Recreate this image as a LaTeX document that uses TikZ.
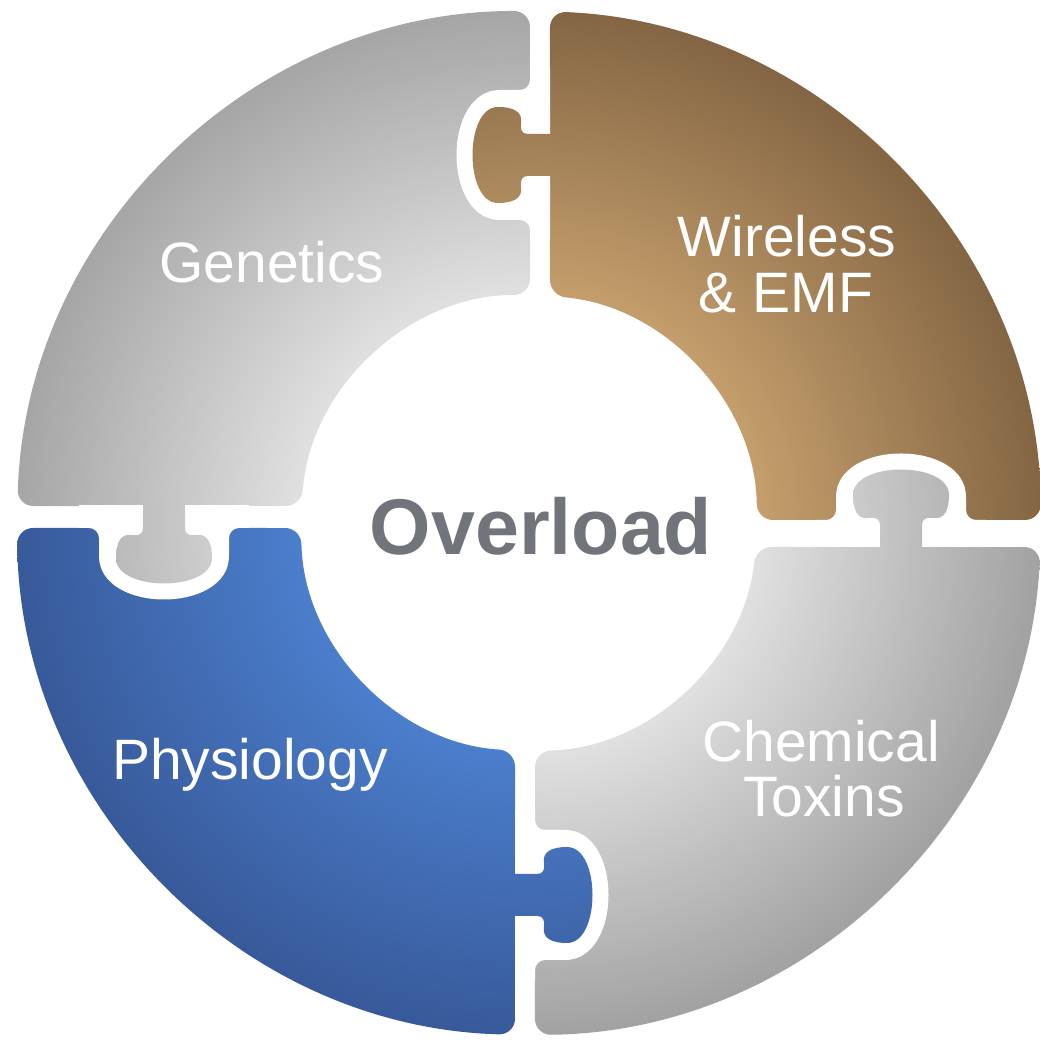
\documentclass[tikz,border=0pt]{standalone}
\usepackage{fontspec}
\setmainfont{Liberation Sans}

% piece colours: light tone near the hole, dark tone at the rim
\definecolor{genLight}{RGB}{224,224,224}
\definecolor{genDark}{RGB}{166,166,166}
\definecolor{wirLight}{RGB}{196,158,108}
\definecolor{wirDark}{RGB}{132,102,68}
\definecolor{phyLight}{RGB}{75,126,204}
\definecolor{phyDark}{RGB}{56,90,154}
\definecolor{cheLight}{RGB}{224,224,224}
\definecolor{cheDark}{RGB}{162,162,162}
\definecolor{overGray}{RGB}{114,116,124}

% radial fills centred on the ring (shaded square of side 1040 -> 20.8 units per bp)
\pgfdeclareradialshading{genShade}{\pgfpointorigin}{color(0bp)=(genLight); color(11bp)=(genLight); color(24.6bp)=(genDark); color(50bp)=(genDark)}
\pgfdeclareradialshading{wirShade}{\pgfpointorigin}{color(0bp)=(wirLight); color(11bp)=(wirLight); color(24.6bp)=(wirDark); color(50bp)=(wirDark)}
\pgfdeclareradialshading{phyShade}{\pgfpointorigin}{color(0bp)=(phyLight); color(11bp)=(phyLight); color(24.6bp)=(phyDark); color(50bp)=(phyDark)}
\pgfdeclareradialshading{cheShade}{\pgfpointorigin}{color(0bp)=(cheLight); color(11bp)=(cheLight); color(24.6bp)=(cheDark); color(50bp)=(cheDark)}

% quarter rings (relative to the ring centre); each starts halfway along a straight edge
\newcommand\bodyGen{(1,370) -- (89.75:228) arc[start angle=89.75, end angle=175.72, radius=228] -- (178.10:512) arc[start angle=178.10, end angle=89.89, radius=512] -- cycle}
\newcommand\bodyWir{(21,370) -- (84.72:228) arc[start angle=84.72, end angle=0.754, radius=228] -- (0.336:512) arc[start angle=0.336, end angle=87.65, radius=512] -- cycle}
\newcommand\bodyPhy{(-14,-370) -- (266.48:228) arc[start angle=266.48, end angle=181.26, radius=228] -- (180.56:512) arc[start angle=180.56, end angle=268.43, radius=512] -- cycle}
\newcommand\bodyChe{(6,-370) -- (271.51:228) arc[start angle=271.51, end angle=353.96, radius=228] -- (357.31:512) arc[start angle=357.31, end angle=270.67, radius=512] -- cycle}

% puzzle knob: base on the owner's edge at u=0, pointing along +u
\newcommand\knob{(-14,-21) -- (22,-21) .. controls (28,-21) and (30,-25) .. (29,-32)
  .. controls (27,-44) and (38,-48) .. (52,-48)
  .. controls (86,-48) and (86,48) .. (52,48)
  .. controls (38,48) and (27,44) .. (29,32)
  .. controls (30,25) and (28,21) .. (22,21) -- (-14,21) -- cycle}
% matching hollow in the neighbour whose edge lies at u=#1, lips rounded (r=10)
\newcommand\hollow[1]{(-10,-85) -- ({#1},-85) -- ({#1},-75)
  .. controls ({#1},-69.5) and ({#1+4.5},-65) .. ({#1+10},-65)
  -- (50,-65) .. controls (108,-65) and (108,65) .. (50,65)
  -- ({#1+10},65) .. controls ({#1+4.5},65) and ({#1},69.5) .. ({#1},75)
  -- ({#1},85) -- (-10,85) -- cycle}

\tikzset{
  ringc/.style={shift={(529,517)}},
  lbl/.style={text=white, inner sep=0pt, anchor=base, font=\fontsize{57}{60}\selectfont},
  socket/.style={fill=white},
}

\begin{document}
\begin{tikzpicture}[x=1pt,y=1pt]
\useasboundingbox (0,0) rectangle (1039,1040);

% ---- quarter-ring bodies
\begin{scope}\path[clip, ringc, rounded corners=16] \bodyGen;
  \shade[ringc, shading=genShade] (-520,-520) rectangle (520,520);\end{scope}
\begin{scope}\path[clip, ringc, rounded corners=16] \bodyWir;
  \shade[ringc, shading=wirShade] (-520,-520) rectangle (520,520);\end{scope}
\begin{scope}\path[clip, ringc, rounded corners=16] \bodyPhy;
  \shade[ringc, shading=phyShade] (-520,-520) rectangle (520,520);\end{scope}
\begin{scope}\path[clip, ringc, rounded corners=16] \bodyChe;
  \shade[ringc, shading=cheShade] (-520,-520) rectangle (520,520);\end{scope}

% ---- hollows cut into the neighbouring pieces
\begin{scope}\clip (0,0) rectangle (550,1040);
  \path[socket, shift={(550,885)}, rotate=180] \hollow{20};\end{scope}
\begin{scope}\clip (0,493) rectangle (1039,1040);
  \path[socket, shift={(901,493)}, rotate=90] \hollow{27};\end{scope}
\begin{scope}\clip (0,0) rectangle (1039,534);
  \path[socket, shift={(164,534)}, rotate=-90] \hollow{22};\end{scope}
\begin{scope}\clip (515,0) rectangle (1039,1040);
  \path[socket, shift={(515,145)}] \hollow{20};\end{scope}

% ---- knobs, filled with their owner's shading
\begin{scope}\path[clip, shift={(550,885)}, rotate=180] \knob;
  \shade[ringc, shading=wirShade] (-520,-520) rectangle (520,520);\end{scope}
\begin{scope}\path[clip, shift={(901,493)}, rotate=90] \knob;
  \shade[ringc, shading=cheShade] (-520,-520) rectangle (520,520);\end{scope}
\begin{scope}\path[clip, shift={(164,534)}, rotate=-90] \knob;
  \shade[ringc, shading=genShade] (-520,-520) rectangle (520,520);\end{scope}
\begin{scope}\path[clip, shift={(515,145)}] \knob;
  \shade[ringc, shading=phyShade] (-520,-520) rectangle (520,520);\end{scope}

% ---- labels
\node[lbl] (genetics) at (272,757) {Genetics};
\node[lbl] (wireless) at (787,783) {Wireless};
\node[lbl] (emf) at (786,727) {\& EMF};
\node[lbl] (physiology) at (250,260) {Physiology};
\node[lbl] (chemical) at (821,278) {Chemical};
\node[lbl] (toxins) at (824,223) {Toxins};
\node[inner sep=0pt, anchor=base, text=overGray, font=\fontsize{79}{80}\selectfont\bfseries] (overload) at (541,485) {Overload};
\end{tikzpicture}
\end{document}
